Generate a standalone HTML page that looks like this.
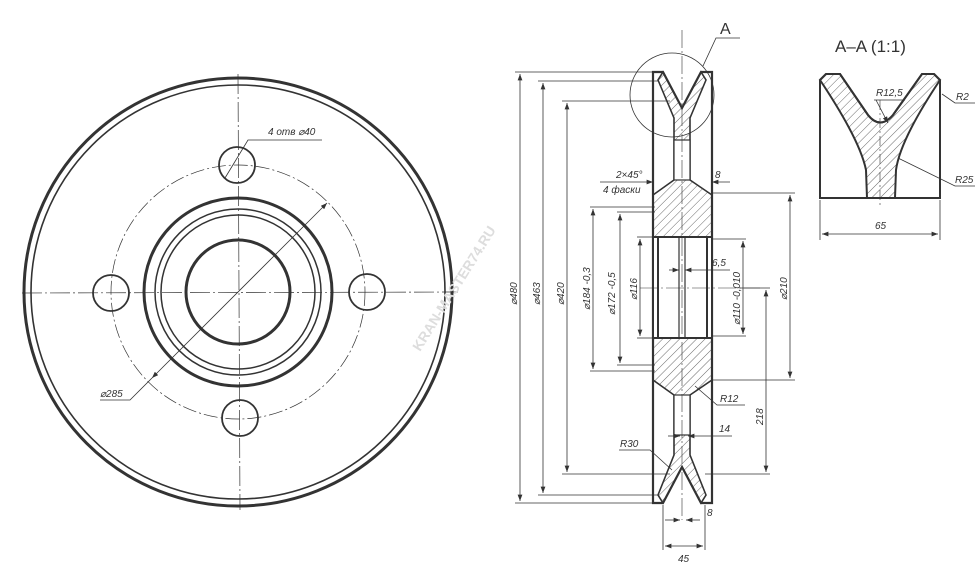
<!DOCTYPE html>
<html><head><meta charset="utf-8"><style>
html,body{margin:0;padding:0;background:#fff;}
svg{display:block}
text{font-family:"Liberation Sans",sans-serif;font-style:italic;fill:#333;}
</style></head><body>
<svg width="980" height="564" viewBox="0 0 980 564" xmlns="http://www.w3.org/2000/svg">
<defs>
<pattern id="h" patternUnits="userSpaceOnUse" width="6" height="6" patternTransform="rotate(45)">
<line x1="0" y1="0" x2="0" y2="6" stroke="#444" stroke-width="0.8"/></pattern>
<marker id="ar" markerWidth="8" markerHeight="6" refX="8" refY="3" orient="auto-start-reverse"><path d="M0,0L8,3L0,6z" fill="#333"/></marker>
</defs>
<g fill="none" stroke="#333">
<!-- front view -->
<circle cx="238" cy="292" r="214" stroke-width="3"/>
<circle cx="238" cy="292" r="207" stroke-width="1.6"/>
<circle cx="238" cy="292" r="127" stroke-width="0.7" stroke-dasharray="14 3 2 3"/>
<circle cx="238" cy="292" r="94" stroke-width="3"/>
<circle cx="238" cy="292" r="83" stroke-width="1.5"/>
<circle cx="238" cy="292" r="77" stroke-width="1.5"/>
<circle cx="238" cy="292" r="52" stroke-width="3"/>
<circle cx="237" cy="165" r="18" stroke-width="1.8"/>
<circle cx="111" cy="293" r="18" stroke-width="1.8"/>
<circle cx="367" cy="292" r="18" stroke-width="1.8"/>
<circle cx="240" cy="418" r="18" stroke-width="1.8"/>
<line x1="238" y1="74" x2="240" y2="510" stroke-width="0.7" stroke-dasharray="20 3 2 3"/>
<line x1="22" y1="293" x2="458" y2="292" stroke-width="0.7" stroke-dasharray="20 3 2 3"/>
<line x1="327" y1="203" x2="152" y2="378" stroke-width="0.8" marker-start="url(#ar)" marker-end="url(#ar)"/>
<polyline points="152,378 130,400 100,400" stroke-width="0.8"/>
<polyline points="225,178 248,140 322,140" stroke-width="0.8"/>
<!-- section view -->
<path d="M653,72 L663,72 L682,108 L701,72 L712,72 L712,503 L701,503 L682,467 L663,503 L653,503 Z" stroke-width="2.2"/>
<path d="M663,72 L682,108 L701,72 L706,80 L690,118 L690,180 L712,195 L712,380 L690,395 L690,455 L706,495 L701,503 L682,467 L663,503 L658,495 L674,455 L674,395 L653,380 L653,195 L674,180 L674,118 L658,80 Z" fill="url(#h)" stroke-width="1.6"/>
<rect x="674" y="140" width="16" height="40" fill="#fff" stroke-width="1.2"/>
<rect x="674" y="395" width="16" height="40" fill="#fff" stroke-width="1.2"/>
<rect x="653" y="237" width="59" height="101" fill="#fff" stroke-width="2"/>
<line x1="658" y1="237" x2="658" y2="338" stroke-width="2"/>
<line x1="707" y1="237" x2="707" y2="338" stroke-width="2"/>
<rect x="679" y="237" width="6" height="101" stroke-width="1.2"/>
<line x1="682" y1="30" x2="682" y2="520" stroke-width="0.6" stroke-dasharray="18 3 2 3"/>
<line x1="640" y1="288" x2="760" y2="288" stroke-width="0.6" stroke-dasharray="18 3 2 3"/>
<circle cx="672" cy="95" r="42" stroke-width="0.8"/>
<polyline points="703,66 716,38 740,38" stroke-width="0.8"/>
<!-- dims -->
<g stroke-width="0.8">
<line x1="515" y1="72" x2="653" y2="72"/><line x1="515" y1="503" x2="653" y2="503"/>
<line x1="520" y1="74" x2="520" y2="501" marker-start="url(#ar)" marker-end="url(#ar)"/>
<line x1="538" y1="81" x2="658" y2="81"/><line x1="538" y1="495" x2="658" y2="495"/>
<line x1="543" y1="83" x2="543" y2="493" marker-start="url(#ar)" marker-end="url(#ar)"/>
<line x1="562" y1="101" x2="670" y2="101"/><line x1="562" y1="474" x2="670" y2="474"/>
<line x1="567" y1="103" x2="567" y2="472" marker-start="url(#ar)" marker-end="url(#ar)"/>
<line x1="590" y1="207" x2="655" y2="207"/><line x1="590" y1="371" x2="655" y2="371"/>
<line x1="593" y1="209" x2="593" y2="369" marker-start="url(#ar)" marker-end="url(#ar)"/>
<line x1="617" y1="212" x2="655" y2="212"/><line x1="617" y1="365" x2="655" y2="365"/>
<line x1="620" y1="214" x2="620" y2="363" marker-start="url(#ar)" marker-end="url(#ar)"/>
<line x1="637" y1="237" x2="653" y2="237"/><line x1="637" y1="338" x2="653" y2="338"/>
<line x1="640" y1="239" x2="640" y2="336" marker-start="url(#ar)" marker-end="url(#ar)"/>
<line x1="712" y1="239" x2="746" y2="239"/><line x1="712" y1="336" x2="746" y2="336"/>
<line x1="743" y1="241" x2="743" y2="334" marker-start="url(#ar)" marker-end="url(#ar)"/>
<line x1="712" y1="193" x2="795" y2="193"/><line x1="712" y1="380" x2="795" y2="380"/>
<line x1="790" y1="195" x2="790" y2="378" marker-start="url(#ar)" marker-end="url(#ar)"/>
<line x1="740" y1="288" x2="770" y2="288"/><line x1="705" y1="474" x2="770" y2="474"/>
<line x1="766" y1="290" x2="766" y2="472" marker-start="url(#ar)" marker-end="url(#ar)"/>
<line x1="663" y1="505" x2="663" y2="550"/><line x1="705" y1="505" x2="705" y2="550"/>
<line x1="665" y1="546" x2="703" y2="546" marker-start="url(#ar)" marker-end="url(#ar)"/>
<line x1="665" y1="520" x2="680" y2="520" marker-end="url(#ar)"/><line x1="700" y1="520" x2="686" y2="520" marker-end="url(#ar)"/>
<line x1="668" y1="436" x2="680" y2="436" marker-end="url(#ar)"/><line x1="732" y1="436" x2="688" y2="436" marker-end="url(#ar)"/>
<line x1="669" y1="270" x2="679" y2="270" marker-end="url(#ar)"/><line x1="730" y1="270" x2="685" y2="270" marker-end="url(#ar)"/>
<line x1="600" y1="182" x2="653" y2="182" marker-end="url(#ar)"/>
<line x1="730" y1="182" x2="712" y2="182" marker-end="url(#ar)"/>
<polyline points="695,386 717,405 745,405"/>
<polyline points="619,450 650,450 672,470"/>
</g>
<!-- detail A-A -->
<path d="M820,80 L826,74 L840,74 L868,115 Q880,130 893,115 L922,74 L934,74 L940,80 L940,198 L820,198 Z" stroke-width="2"/>
<path d="M820,80 L826,74 L840,74 L868,115 Q880,130 893,115 L922,74 L934,74 L940,80 Q900,140 896,170 L895,198 L867,198 L866,170 Q860,140 820,80 Z" fill="url(#h)" stroke-width="2"/>
<line x1="880" y1="100" x2="880" y2="205" stroke-width="0.6" stroke-dasharray="10 3 2 3"/>
<g stroke-width="0.8">
<line x1="820" y1="200" x2="820" y2="240"/><line x1="940" y1="200" x2="940" y2="240"/>
<line x1="822" y1="234" x2="938" y2="234" marker-start="url(#ar)" marker-end="url(#ar)"/>
<polyline points="874,100 905,100" /><line x1="876" y1="100" x2="888" y2="123" marker-end="url(#ar)"/>
<polyline points="975,103 955,103 942,94"/>
<polyline points="975,186 955,186 898,158"/>
</g>
</g>
<text x="720" y="34" font-size="16" style="font-style:normal">A</text>
<text x="835" y="52" font-size="17" style="font-style:normal">A–A (1:1)</text>
<text x="876" y="96" font-size="10">R12,5</text>
<text x="956" y="100" font-size="10">R2</text>
<text x="955" y="183" font-size="10">R25</text>
<text x="875" y="229" font-size="10">65</text>
<text x="268" y="135" font-size="10">4 отв ⌀40</text>
<text x="100" y="397" font-size="10">⌀285</text>
<text x="616" y="178" font-size="10">2×45°</text>
<text x="603" y="193" font-size="10">4 фаски</text>
<text x="715" y="178" font-size="10">8</text>
<text x="712" y="266" font-size="10">6,5</text>
<text x="719" y="432" font-size="10">14</text>
<text x="720" y="402" font-size="10">R12</text>
<text x="620" y="447" font-size="10">R30</text>
<text x="707" y="516" font-size="10">8</text>
<text x="678" y="562" font-size="10">45</text>
<g font-size="10">
<text transform="translate(517,305) rotate(-90)">⌀480</text>
<text transform="translate(540,305) rotate(-90)">⌀463</text>
<text transform="translate(564,305) rotate(-90)">⌀420</text>
<text transform="translate(590,310) rotate(-90)">⌀184 -0,3</text>
<text transform="translate(615,315) rotate(-90)">⌀172 -0,5</text>
<text transform="translate(637,300) rotate(-90)">⌀116</text>
<text transform="translate(740,325) rotate(-90)">⌀110 -0,010</text>
<text transform="translate(787,300) rotate(-90)">⌀210</text>
<text transform="translate(763,425) rotate(-90)">218</text>
</g>
<text transform="translate(420,352) rotate(-58)" font-size="14" style="fill:#ddd;font-style:normal;font-weight:bold">KRAN-MASTER74.RU</text>
</svg>
</body></html>
